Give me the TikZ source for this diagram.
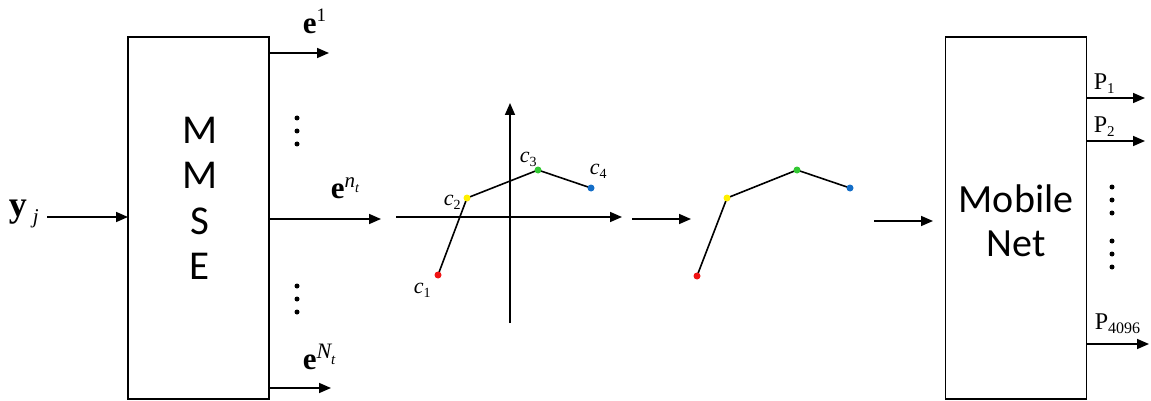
\documentclass[tikz,border=0pt]{standalone}
\usepackage{fontspec}
\setmainfont{Liberation Serif}
\newfontfamily\boxfont{Carlito}
\usetikzlibrary{arrows.meta}
\newcommand\fsz[1]{\fontsize{#1}{#1}\selectfont}
\begin{document}
\begin{tikzpicture}[x=1pt,y=-1pt,
  line width=1.6pt,
  arr/.style={-{Triangle[length=12pt,width=10pt]}},
  blockbox/.style={draw,line width=1.6pt,minimum width=141pt,minimum height=362pt,inner sep=0pt},
  lbl/.style={inner sep=0pt,font=\fsz{31}},
  plbl/.style={inner sep=0pt,font=\fsz{24}},
  clbl/.style={inner sep=0pt,font=\fsz{22}\itshape},
  boxtxt/.style={inner sep=0pt,font=\boxfont\fsz{41}},
  dotn/.style={circle,fill,inner sep=0pt,minimum size=5pt},
  pt/.style={circle,inner sep=0pt,minimum size=7pt,draw=none}
]
\useasboundingbox (0,0) rectangle (1151,401);
\definecolor{cred}{RGB}{240,20,20}
\definecolor{cyel}{RGB}{255,240,0}
\definecolor{cgrn}{RGB}{50,200,50}
\definecolor{cblu}{RGB}{20,110,200}

% MMSE block
\node[blockbox] (mmse) at (198.5,218) {};
\node[boxtxt] (m1) at (200,130) {M};
\node[boxtxt] (m2) at (200,175) {M};
\node[boxtxt] (m3) at (200,221) {S};
\node[boxtxt] (m4) at (200,266) {E};

% input
\node[lbl,anchor=base west,font=\fsz{36}] (yj) at (8,216) {\textbf{y}\hspace{6pt}\raisebox{-7pt}{\fsz{21}\itshape j}};
\coordinate (yin) at (47,217);
\coordinate (yout) at (128,217);
\draw[arr] (yin) -- (yout);

% outputs of MMSE
\coordinate (e1s) at (269,53);
\coordinate (e1e) at (329,53);
\draw[arr] (e1s) -- (e1e);
\node[lbl,anchor=base west] (e1l) at (302,34) {\textbf{e}\raisebox{12pt}{\fsz{19}1}};

\node[dotn] (d1) at (297,118) {};
\node[dotn] (d2) at (297,131) {};
\node[dotn] (d3) at (297,144) {};

\coordinate (ens) at (269,219);
\coordinate (ene) at (381,219);
\draw[arr] (ens) -- (ene);
\node[lbl,anchor=base west] (enl) at (330,198) {\textbf{e}\raisebox{11pt}{\fsz{21}\itshape n\raisebox{-5pt}{\fsz{14}t}}};

\node[dotn] (d4) at (297,286) {};
\node[dotn] (d5) at (297,299) {};
\node[dotn] (d6) at (297,312) {};

\coordinate (eNs) at (269,388);
\coordinate (eNe) at (331,388);
\draw[arr] (eNs) -- (eNe);
\node[lbl,anchor=base west] (eNl) at (302,369) {\textbf{e}\raisebox{11pt}{\fsz{22}\itshape N\raisebox{-6pt}{\fsz{15}t}}};

% axes
\coordinate (xa0) at (396,217);
\coordinate (xa1) at (622,217);
\coordinate (ya0) at (510,323);
\coordinate (ya1) at (510,103);
\draw[arr] (xa0) -- (xa1);
\draw[arr] (ya0) -- (ya1);

\coordinate (c1) at (438,275);
\coordinate (c2) at (467,198);
\coordinate (c3) at (538,170);
\coordinate (c4) at (591,188);
\draw (c1) -- (c2) -- (c3) -- (c4);
\node[pt,fill=cred] (p1) at (c1) {};
\node[pt,fill=cyel] (p2) at (c2) {};
\node[pt,fill=cgrn] (p3) at (c3) {};
\node[pt,fill=cblu] (p4) at (c4) {};
\node[clbl,anchor=base west] (c1l) at (413,293) {c\raisebox{-4pt}{\fsz{14}\upshape 1}};
\node[clbl,anchor=base west] (c2l) at (443,205) {c\raisebox{-4pt}{\fsz{14}\upshape 2}};
\node[clbl,anchor=base west] (c3l) at (519,163) {c\raisebox{-4pt}{\fsz{14}\upshape 3}};
\node[clbl,anchor=base west] (c4l) at (589,175) {c\raisebox{-4pt}{\fsz{14}\upshape 4}};

% middle arrow
\coordinate (m1s) at (632,219);
\coordinate (m1e) at (691,219);
\draw[arr] (m1s) -- (m1e);

% second curve
\coordinate (q1) at (697,276);
\coordinate (q2) at (727,198);
\coordinate (q3) at (797,170);
\coordinate (q4) at (850,188);
\draw (q1) -- (q2) -- (q3) -- (q4);
\node[pt,fill=cred] (r1) at (q1) {};
\node[pt,fill=cyel] (r2) at (q2) {};
\node[pt,fill=cgrn] (r3) at (q3) {};
\node[pt,fill=cblu] (r4) at (q4) {};

\coordinate (m2s) at (874,221);
\coordinate (m2e) at (933,221);
\draw[arr] (m2s) -- (m2e);

% MobileNet block
\node[blockbox] (mnet) at (1016,218) {};
\node[boxtxt,align=center,font=\boxfont\fontsize{40}{44}\selectfont] (mtxt) at (1016,221) {Mobile\\Net};

% outputs
\coordinate (o1s) at (1087,98);
\coordinate (o1e) at (1145,98);
\draw[arr] (o1s) -- (o1e);
\node[plbl,anchor=base west] (p1l) at (1093,90) {P\raisebox{-4pt}{\fsz{15}1}};
\coordinate (o2s) at (1087,141);
\coordinate (o2e) at (1145,141);
\draw[arr] (o2s) -- (o2e);
\node[plbl,anchor=base west] (p2l) at (1093,132) {P\raisebox{-4pt}{\fsz{15}2}};

\node[dotn] (f1) at (1112,187) {};
\node[dotn] (f2) at (1112,200) {};
\node[dotn] (f3) at (1112,213) {};
\node[dotn] (f4) at (1112,241) {};
\node[dotn] (f5) at (1112,254) {};
\node[dotn] (f6) at (1112,267) {};

\coordinate (o3s) at (1087,344);
\coordinate (o3e) at (1149,344);
\draw[arr] (o3s) -- (o3e);
\node[plbl,anchor=base west] (p3l) at (1094,329) {P\raisebox{-4pt}{\fsz{16}4096}};
\end{tikzpicture}
\end{document}
